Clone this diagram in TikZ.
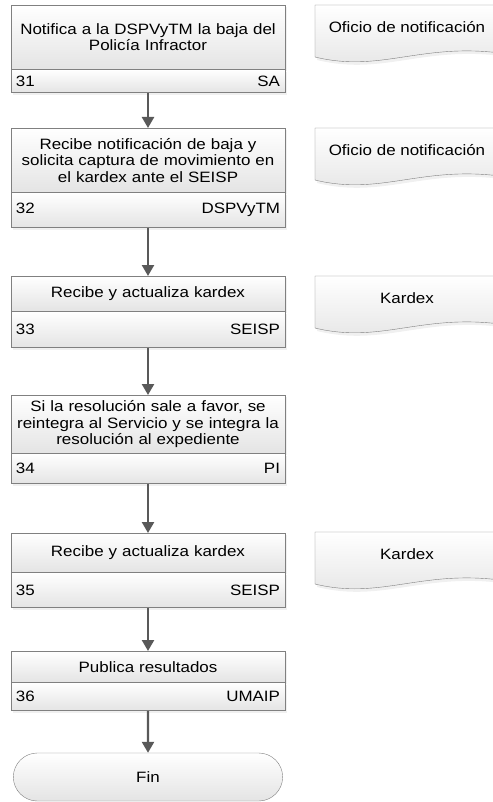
\documentclass[tikz,border=0pt]{standalone}
\usepackage{fontspec}
\setmainfont{Liberation Sans}[FakeStretch=1.13]
\usetikzlibrary{arrows.meta, positioning, shadows, shapes.misc}
\definecolor{boxline}{HTML}{808080}
\definecolor{arrowgray}{HTML}{595959}
\definecolor{boxfillbot}{HTML}{E4E4E4}
\newcommand\stepfont{\fontsize{15}{16.4}\selectfont}
\tikzset{
  stepbox/.style={draw=boxline, top color=white, bottom color=boxfillbot, minimum width=274pt,
                  text width=268pt, align=center, inner sep=0pt, font=\stepfont, anchor=north,
                  drop shadow={opacity=0.12, shadow xshift=2pt, shadow yshift=-2pt}},
  stepfoot/.style={draw=boxline, top color=white, bottom color=boxfillbot, minimum width=274pt,
                   text width=264pt, align=left, inner xsep=5pt, inner ysep=0pt, font=\stepfont,
                   drop shadow={opacity=0.12, shadow xshift=2pt, shadow yshift=-2pt}},
  flowarrow/.style={-{Triangle[width=12pt,length=11pt]}, line width=2.4pt, arrowgray},
  docshape/.style={draw=boxline, top color=white, bottom color=boxfillbot,
                   drop shadow={opacity=0.12, shadow xshift=2pt, shadow yshift=-3pt}},
  doctext/.style={font=\stepfont},
  terminal/.style={rounded rectangle, draw=boxline, top color=white, bottom color=boxfillbot,
                   minimum width=276pt, minimum height=48pt, font=\stepfont}
}

\begin{document}
\begin{tikzpicture}[x=1pt, y=-1pt]
  \useasboundingbox (0,0) rectangle (492,802);

  % process steps
  \node[stepbox, minimum height=64pt] (s31) at (148,5)
    {Notifica a la DSPVyTM la baja del\\ Policía Infractor};
  \node[stepfoot, minimum height=23pt, below=0pt of s31] (f31) {31\hfill SA};

  \node[stepbox, minimum height=64pt] (s32) at (148,128)
    {Recibe notificación de baja y\\ solicita captura de movimiento en\\ el kardex ante el SEISP};
  \node[stepfoot, minimum height=35pt, below=0pt of s32] (f32) {32\hfill DSPVyTM};

  \node[stepbox, minimum height=35pt] (s33) at (148,276) {Recibe y actualiza kardex};
  \node[stepfoot, minimum height=36pt, below=0pt of s33] (f33) {33\hfill SEISP};

  \node[stepbox, minimum height=58pt] (s34) at (148,395)
    {Si la resolución sale a favor, se\\ reintegra al Servicio y se integra la\\ resolución al expediente};
  \node[stepfoot, minimum height=30pt, below=0pt of s34] (f34) {34\hfill PI};

  \node[stepbox, minimum height=39pt] (s35) at (148,533) {Recibe y actualiza kardex};
  \node[stepfoot, minimum height=35pt, below=0pt of s35] (f35) {35\hfill SEISP};

  \node[stepbox, minimum height=31pt] (s36) at (148,651) {Publica resultados};
  \node[stepfoot, minimum height=28pt, below=0pt of s36] (f36) {36\hfill UMAIP};

  \node[terminal] (fin) at (148,777) {Fin};

  % documents
  \foreach \top/\n/\t in {5/d31/Oficio de notificación, 128/d32/Oficio de notificación,
                          276/d33/Kardex, 532/d35/Kardex}{
    \draw[docshape] (315,\top) -- (500,\top) -- (500,\top+48)
      .. controls (420,\top+38) and (380,\top+68) .. (315,\top+52) -- cycle;
    \node[doctext] (\n) at (407,\top+22) {\t};
  }

  % flow
  \draw[flowarrow] (f31) -- (s32);
  \draw[flowarrow] (f32) -- (s33);
  \draw[flowarrow] (f33) -- (s34);
  \draw[flowarrow] (f34) -- (s35);
  \draw[flowarrow] (f35) -- (s36);
  \draw[flowarrow] (f36) -- (fin);
\end{tikzpicture}
\end{document}
